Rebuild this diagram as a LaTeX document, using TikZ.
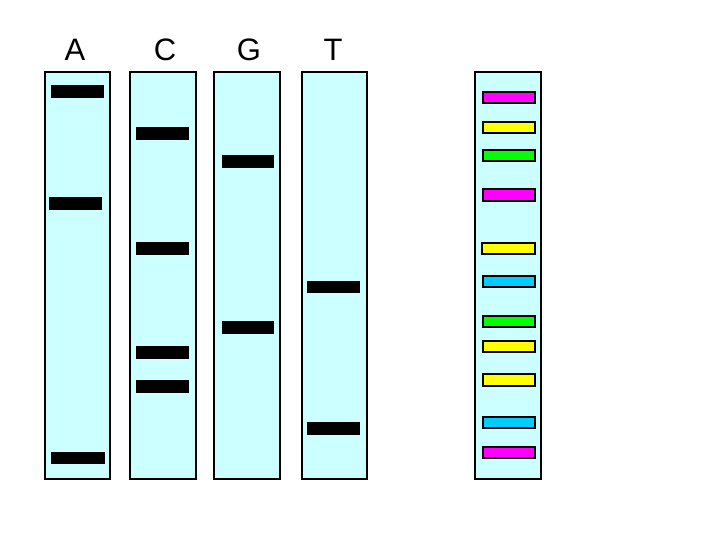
\documentclass[tikz,border=0pt]{standalone}
\usepackage{fontspec}
\setmainfont{Liberation Sans}
\definecolor{lanebg}{HTML}{CCFFFF}
\definecolor{bmag}{HTML}{FF00FF}
\definecolor{byel}{HTML}{FFFF00}
\definecolor{bgrn}{HTML}{00FF00}
\definecolor{bcyn}{HTML}{00CCFF}
\begin{document}
\begin{tikzpicture}[x=1pt,y=-1pt,
  lane/.style={draw=black,line width=1.8pt,fill=lanebg},
  band/.style={fill=black},
  cband/.style={draw=black,line width=1.3pt,fill=#1},
  lbl/.style={font=\fontsize{31}{31}\selectfont,inner sep=0pt,anchor=base}]
\useasboundingbox[fill=white] (0,0) rectangle (720,540);
% lanes
\draw[lane] (45,72) rectangle (110,479);
\draw[lane] (130,72) rectangle (196,479);
\draw[lane] (214,72) rectangle (280,479);
\draw[lane] (302,72) rectangle (367,479);
\draw[lane] (475,72) rectangle (541,479);
% labels
\node[lbl] (la) at (75,61) {A};
\node[lbl] (lc) at (165,61) {C};
\node[lbl] (lg) at (249,61) {G};
\node[lbl] (lt) at (333,61) {T};
% A
\fill[band] (51,85) rectangle (104,98);
\fill[band] (49,197) rectangle (102,210);
\fill[band] (51,452) rectangle (105,464);
% C
\fill[band] (136,127) rectangle (189,140);
\fill[band] (136,242) rectangle (189,255);
\fill[band] (136,346) rectangle (189,359);
\fill[band] (136,380) rectangle (189,393);
% G
\fill[band] (222,155) rectangle (274,168);
\fill[band] (222,321) rectangle (274,334);
% T
\fill[band] (307,281) rectangle (360,293);
\fill[band] (307,422) rectangle (360,435);
% colored lane
\draw[cband=bmag] (483,92) rectangle (535,103);
\draw[cband=byel] (483,122) rectangle (535,133);
\draw[cband=bgrn] (483,150) rectangle (535,161);
\draw[cband=bmag] (483,189) rectangle (535,201);
\draw[cband=byel] (482,243) rectangle (535,254);
\draw[cband=bcyn] (483,276) rectangle (535,287);
\draw[cband=bgrn] (483,316) rectangle (535,327);
\draw[cband=byel] (483,341) rectangle (535,352);
\draw[cband=byel] (483,374) rectangle (535,386);
\draw[cband=bcyn] (483,417) rectangle (535,428);
\draw[cband=bmag] (483,447) rectangle (535,458);
\end{tikzpicture}
\end{document}
